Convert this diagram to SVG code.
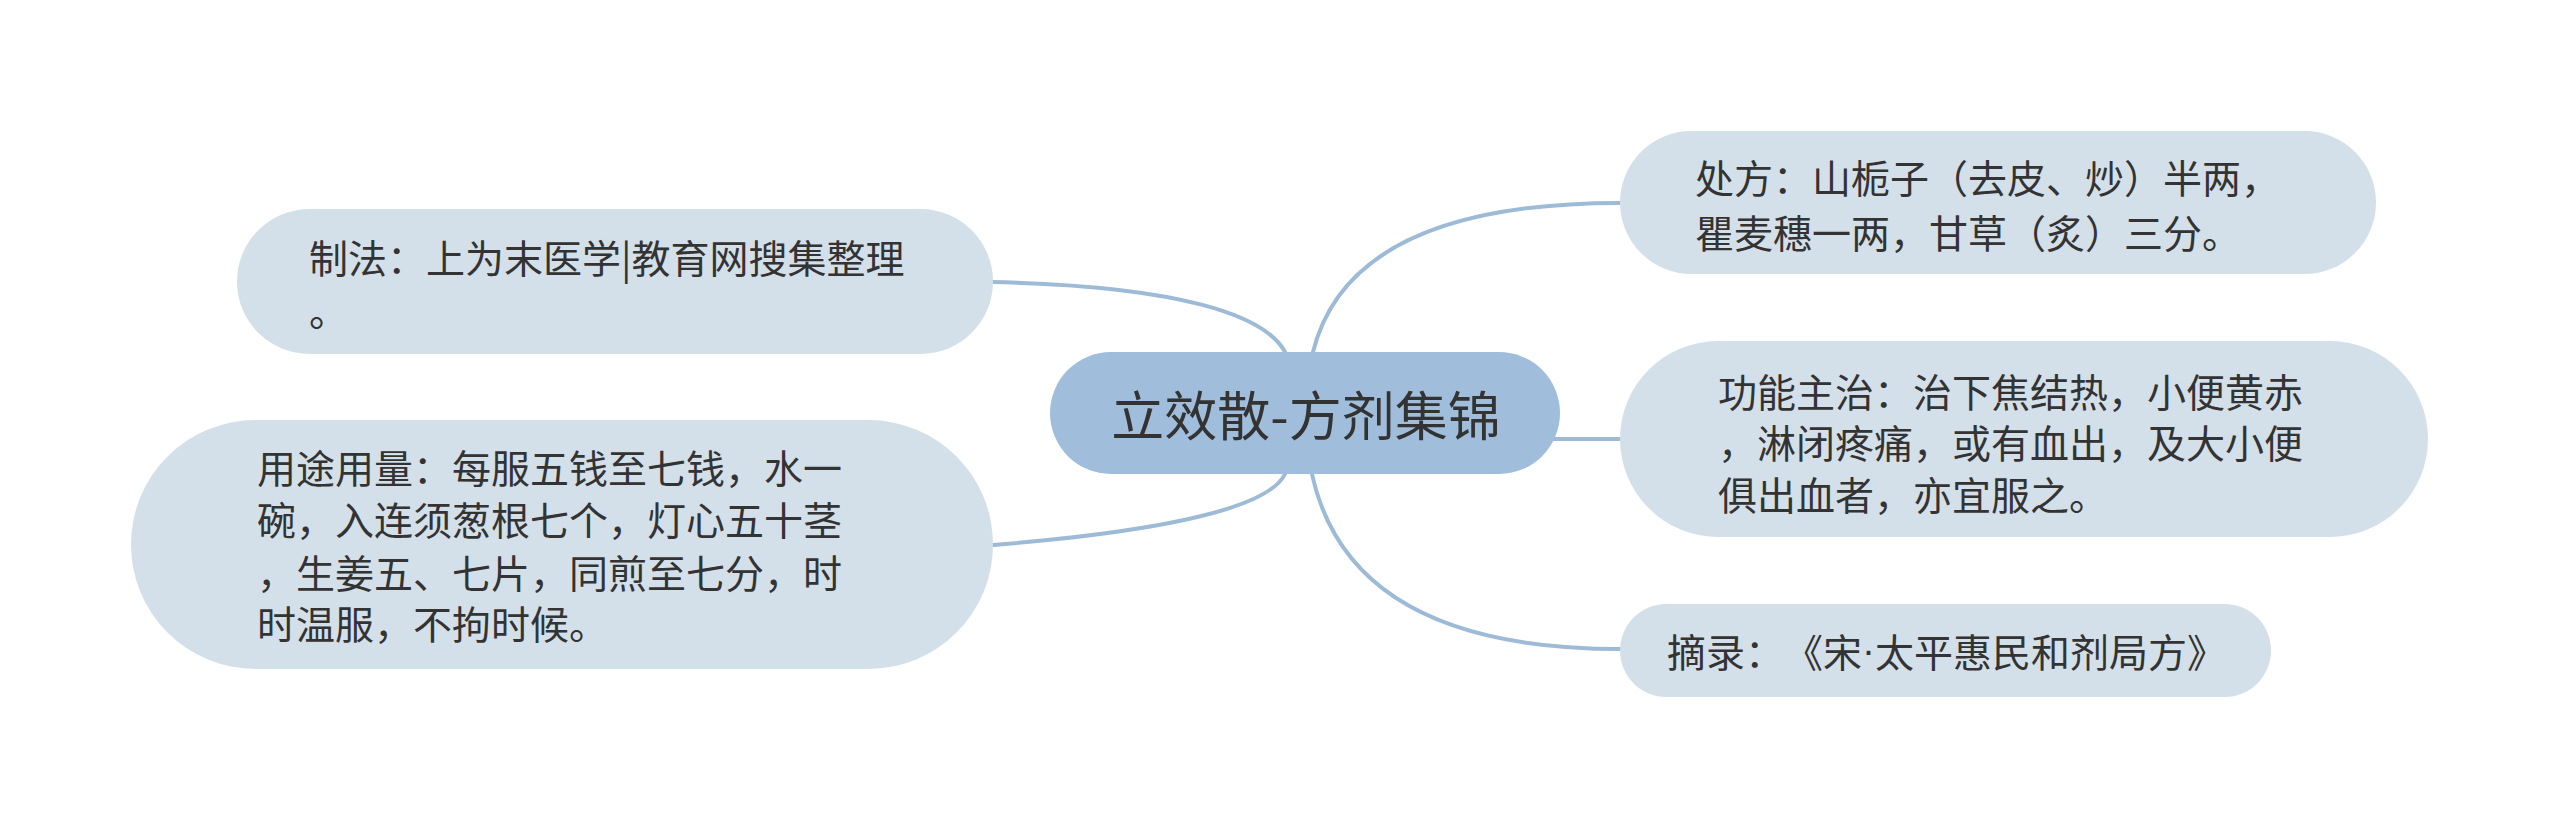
<svg xmlns="http://www.w3.org/2000/svg" width="2560" height="827" viewBox="0 0 2560 827">
<style>
.bg{fill:#ffffff}
.conn{fill:none;stroke:#9dbad7;stroke-width:4;stroke-linecap:round}
.sub{fill:#d3e0ea}
.root{fill:#a0bedb}
.t{font-family:"Noto Sans CJK SC","Liberation Sans",sans-serif;fill:#333333;font-size:39px;dominant-baseline:central;text-spacing-trim:space-all}
.rt{font-family:"Noto Sans CJK SC","Liberation Sans",sans-serif;fill:#333333;font-size:53px;dominant-baseline:central;text-anchor:middle}
.dot{font-family:"Liberation Sans",sans-serif}
</style>
<rect class="bg" x="0" y="0" width="2560" height="827"/>
<g id="connectors">
<path class="conn" d="M1313 352 Q1350 203 1620 203"/>
<path class="conn" d="M1540 439 L1620 439"/>
<path class="conn" d="M1312 474 Q1350 649 1620 649"/>
<path class="conn" d="M1285 352 C1265 315 1180 286 992 282"/>
<path class="conn" d="M1285 474 C1270 505 1180 530 993 545"/>
</g>
<g id="root">
<rect class="root" x="1050" y="352" width="510" height="122" rx="61"/>
<text class="rt" x="1306" y="413">立效散-方剂集锦</text>
</g>
<g id="node-chufang">
<rect class="sub" x="1620" y="131" width="756" height="143" rx="71.5"/>
<text class="t" x="1695" y="176">处方：山栀子（去皮、炒）半两，</text>
<text class="t" x="1695" y="231">瞿麦穗一两，甘草（炙）三分。</text>
</g>
<g id="node-gongneng">
<rect class="sub" x="1620" y="341" width="808" height="196" rx="98"/>
<text class="t" x="1718" y="390">功能主治：治下焦结热，小便黄赤</text>
<text class="t" x="1718" y="441">，淋闭疼痛，或有血出，及大小便</text>
<text class="t" x="1718" y="493">俱出血者，亦宜服之。</text>
</g>
<g id="node-zhailu">
<rect class="sub" x="1620" y="604" width="651" height="93" rx="46.5"/>
<text class="t" x="1667" y="650">摘录：《宋<tspan class="dot">·</tspan>太平惠民和剂局方》</text>
</g>
<g id="node-zhifa">
<rect class="sub" x="237" y="209" width="756" height="145" rx="72.5"/>
<text class="t" x="309" y="256">制法：上为末医学|教育网搜集整理</text>
<text class="t" x="309" y="309">。</text>
</g>
<g id="node-yongtu">
<rect class="sub" x="131" y="420" width="862" height="249" rx="124.5"/>
<text class="t" x="257" y="466">用途用量：每服五钱至七钱，水一</text>
<text class="t" x="257" y="518">碗，入连须葱根七个，灯心五十茎</text>
<text class="t" x="257" y="571">，生姜五、七片，同煎至七分，时</text>
<text class="t" x="257" y="622">时温服，不拘时候。</text>
</g>
</svg>
